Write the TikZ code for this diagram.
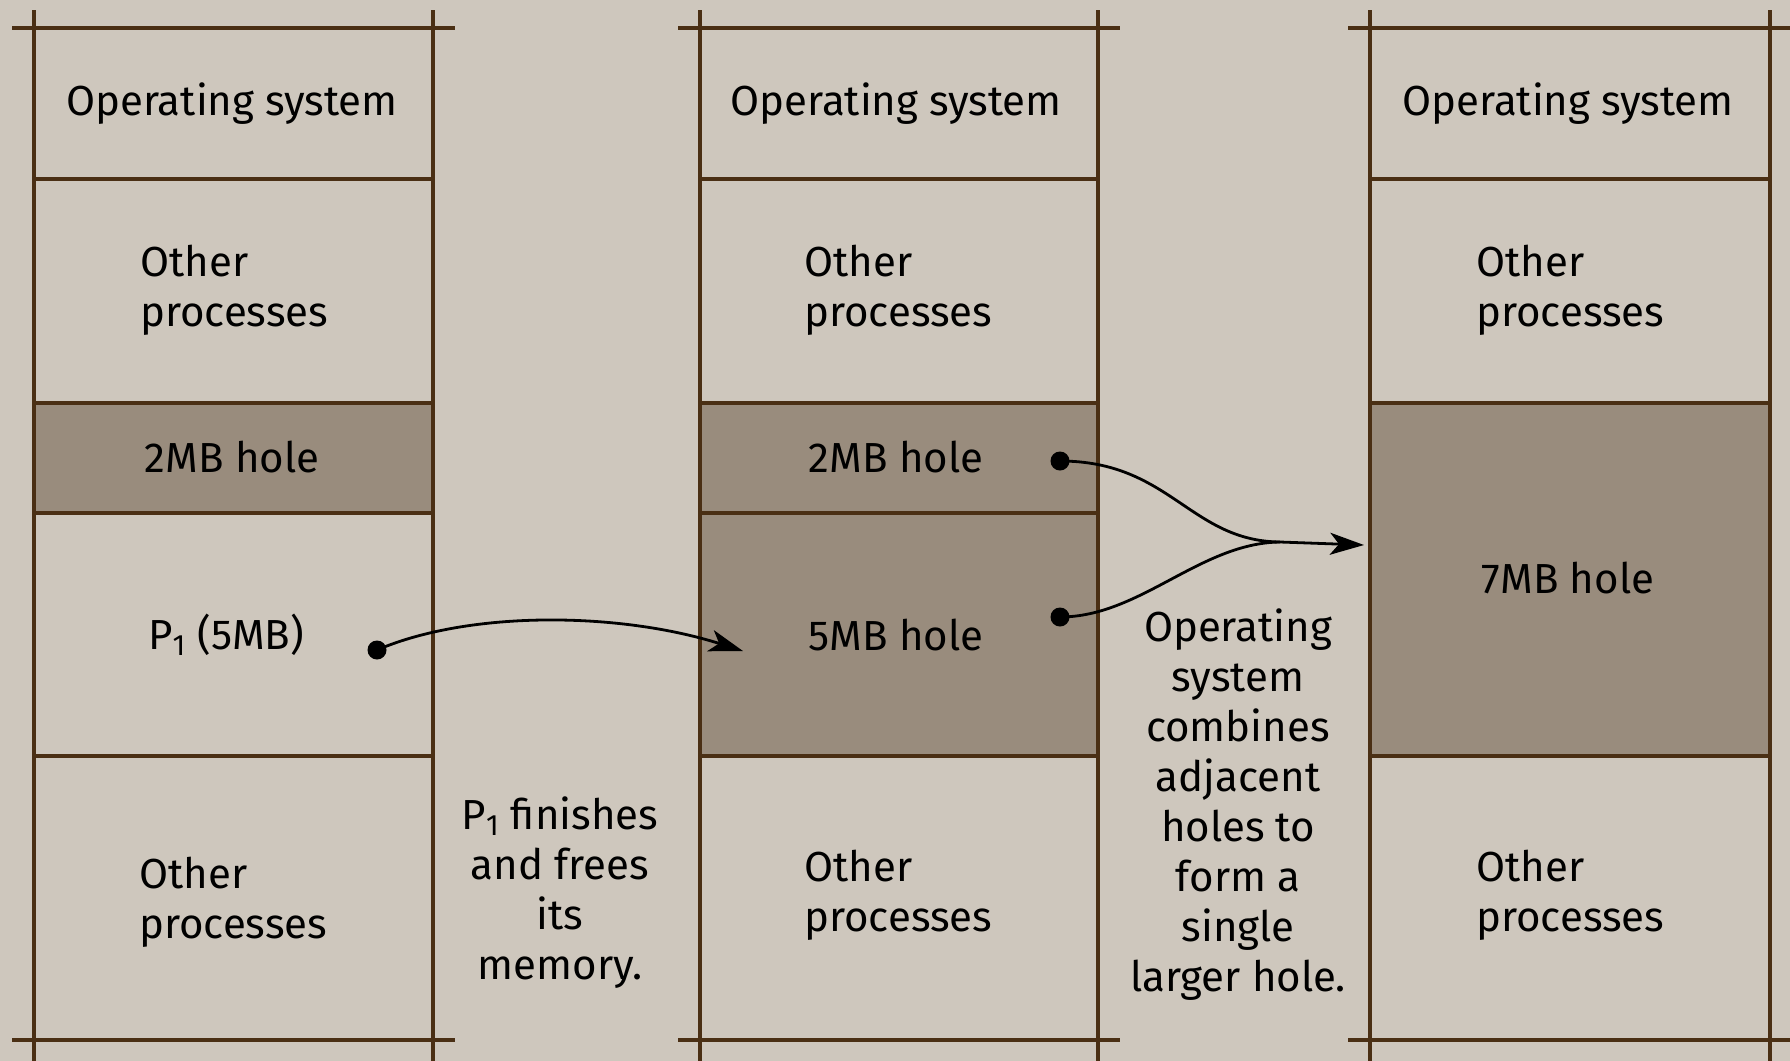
\documentclass[tikz,border=0pt]{standalone}
\usepackage{fontspec}
\setmainfont{Fira Sans}
\usetikzlibrary{arrows.meta}
\definecolor{paper}{RGB}{206,199,189}
\definecolor{holefill}{RGB}{153,140,125}
\definecolor{rulebrown}{RGB}{74,47,20}

\begin{document}
\begin{tikzpicture}[x=0.5pt,y=-0.5pt,
  txt/.style={font=\fontsize{21}{25}\selectfont, inner sep=0pt, text=black},
  lefttxt/.style={txt, anchor=west, align=left},
  midtxt/.style={txt, align=center},
  frame/.style={draw=rulebrown, line width=1.9pt},
  dotnode/.style={circle, fill=black, inner sep=0pt, minimum size=9.5pt},
  link/.style={draw=black, line width=1.4pt},
  tip/.style={-{Stealth[length=17pt,width=11pt,inset=4.5pt]}}]

% paper background
\fill[paper] (0,0) rectangle (1790,1061);
\useasboundingbox (0,0) rectangle (1790,1061);

% free memory (holes)
\fill[holefill] (34,403) rectangle (433,513);
\fill[holefill] (700,403) rectangle (1098,756);
\fill[holefill] (1370,403) rectangle (1770,756);

% memory columns: outer frame
\foreach \l/\r in {34/433, 700/1098, 1370/1770}{
  \draw[frame] (\l,10) -- (\l,1061);
  \draw[frame] (\r,10) -- (\r,1061);
  \draw[frame] (\l-22,28) -- (\r+22,28);
  \draw[frame] (\l-22,1040) -- (\r+22,1040);
  \draw[frame] (\l,179) -- (\r,179);
  \draw[frame] (\l,403) -- (\r,403);
  \draw[frame] (\l,756) -- (\r,756);
}
\draw[frame] (34,513) -- (433,513);
\draw[frame] (700,513) -- (1098,513);

% column 1: before
\node[midtxt] (os1) at (232,104) {Operating system};
\node[lefttxt] (op1a) at (140,290) {Other\\processes};
\node[midtxt] (hole1) at (232,457) {2MB hole};
\node[midtxt] (p1) at (226,635) {P\textsubscript{1} (5MB)};
\node[lefttxt] (op1b) at (139,902) {Other\\processes};

% column 2: after P1 exits
\node[midtxt] (os2) at (896,104) {Operating system};
\node[lefttxt] (op2a) at (804,290) {Other\\processes};
\node[midtxt] (hole2) at (896,457) {2MB hole};
\node[midtxt] (hole5) at (896,635) {5MB hole};
\node[lefttxt] (op2b) at (804,895) {Other\\processes};

% column 3: after coalescing
\node[midtxt] (os3) at (1568,104) {Operating system};
\node[lefttxt] (op3a) at (1476,290) {Other\\processes};
\node[midtxt] (hole7) at (1568,578) {7MB hole};
\node[lefttxt] (op3b) at (1476,895) {Other\\processes};

% captions between columns
\node[midtxt, anchor=north] (cap1) at (560,796)
  {P\textsubscript{1} finishes\\and frees\\its\\memory.};
\node[midtxt, anchor=north] (cap2) at (1238,608)
  {Operating\\system\\combines\\adjacent\\holes to\\form a\\single\\larger hole.};

% connectors
\node[dotnode] (dp1) at (377,650) {};
\node[dotnode] (dh2) at (1060,461) {};
\node[dotnode] (dh5) at (1060,617) {};
\coordinate (freed) at (743,651);
\coordinate (join) at (1280,542);
\coordinate (merged) at (1364,545);

\draw[link, tip] (dp1.center) .. controls (470,610) and (620,612) .. (freed);
\draw[link, tip] (dh2.center) .. controls (1170,461) and (1190,541) .. (join) -- (merged);
\draw[link] (dh5.center) .. controls (1140,617) and (1200,543) .. (join);
\end{tikzpicture}
\end{document}
